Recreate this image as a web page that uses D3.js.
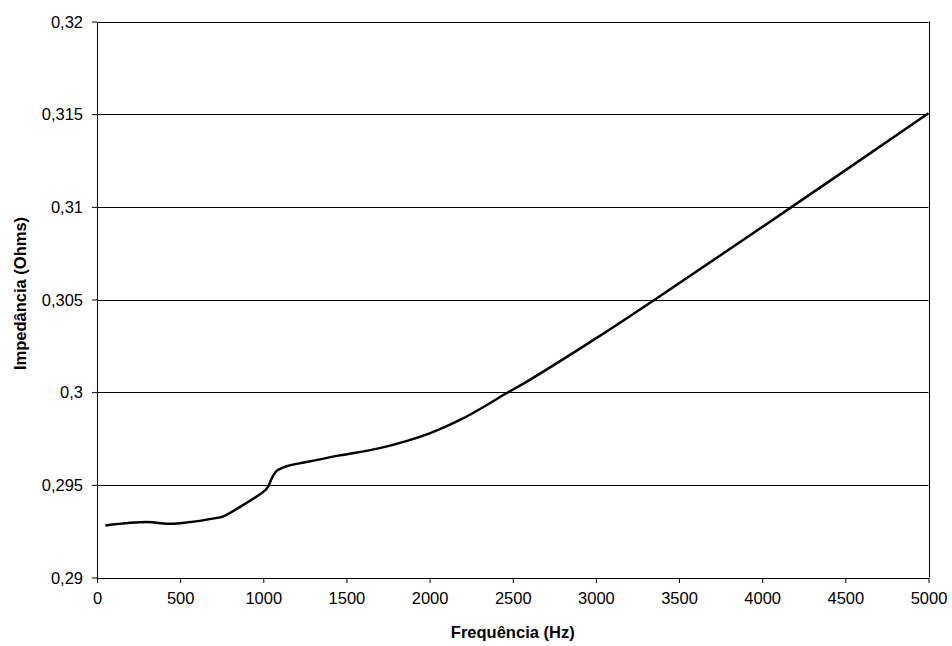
<!DOCTYPE html>
<html><head><meta charset="utf-8">
<script src="https://cdn.jsdelivr.net/npm/d3@7"></script>
<style>body{margin:0;background:#fff}svg{display:block}</style>
</head><body>
<svg id="c" width="952" height="646"></svg>
<script>
const freqHz = [50, 300, 420, 500, 730, 760, 880, 1020, 1050, 1080, 1140, 1260, 1460, 1700, 2000, 2200, 2470, 2600, 3000, 3360, 4180, 5000];
const impedance = [0.29281, 0.29299, 0.29290, 0.29293, 0.29323, 0.29330, 0.29392, 0.29479, 0.29533, 0.29575, 0.29600, 0.29623, 0.29659, 0.29698, 0.29778, 0.29858, 0.29998, 0.30065, 0.30290, 0.30503, 0.31001, 0.31505];
const xTicks = [0, 500, 1000, 1500, 2000, 2500, 3000, 3500, 4000, 4500, 5000];
const yTicks = [0.29, 0.295, 0.3, 0.305, 0.31, 0.315, 0.32];
const xTitle = "Frequência (Hz)";
const yTitle = "Impedância (Ohms)";

const svg = d3.select("#c");
const L = 97, R = 928.5, T = 21.5, B = 577.5;
const x = d3.scaleLinear().domain([0, 5000]).range([L, R]);
const y = d3.scaleLinear().domain([0.29, 0.32]).range([B, T]);
const fmt = v => String(v).replace(".", ",");
const font = "'Liberation Sans', Arial, sans-serif";

svg.append("g").selectAll("line").data(yTicks.slice(1)).join("line")
  .attr("x1", L).attr("x2", R)
  .attr("y1", d => Math.round(y(d)) + 0.5).attr("y2", d => Math.round(y(d)) + 0.5)
  .attr("stroke", "#000").attr("stroke-width", 1);
svg.append("line").attr("x1", Math.round(R)+0.5).attr("x2", Math.round(R)+0.5).attr("y1", T).attr("y2", B).attr("stroke", "#000");

const xAxis = svg.append("g").attr("transform", `translate(0,${Math.round(B)})`)
  .call(d3.axisBottom(x).tickValues(xTicks).tickSize(5).tickSizeOuter(0).tickFormat(d => d).tickPadding(9));
const yAxis = svg.append("g").attr("transform", `translate(${L},0)`)
  .call(d3.axisLeft(y).tickValues(yTicks).tickSize(5).tickSizeOuter(0).tickFormat(fmt).tickPadding(9));
[xAxis, yAxis].forEach(a => {
  a.selectAll("path,line").attr("stroke", "#000").attr("stroke-width", 1);
  a.selectAll("text").attr("font-family", font).attr("font-size", "16.5px").attr("fill", "#000");
});
yAxis.selectAll("text").attr("dy", "0.35em");

const line = d3.line().x((d, i) => x(freqHz[i])).y(d => y(d)).curve(d3.curveCatmullRom.alpha(0.5));
svg.append("path").attr("d", line(impedance)).attr("fill", "none")
  .attr("stroke", "#000").attr("stroke-width", 2.5).attr("stroke-linejoin", "round");

svg.append("text").attr("x", (L + R) / 2).attr("y", 638).attr("text-anchor", "middle")
  .attr("font-family", font).attr("font-weight", "bold").attr("font-size", "16.5px").text(xTitle);
svg.append("text").attr("transform", `translate(26,${(T + B) / 2 - 6}) rotate(-90)`).attr("text-anchor", "middle")
  .attr("font-family", font).attr("font-weight", "bold").attr("font-size", "16.5px").text(yTitle);
</script>
</body></html>
